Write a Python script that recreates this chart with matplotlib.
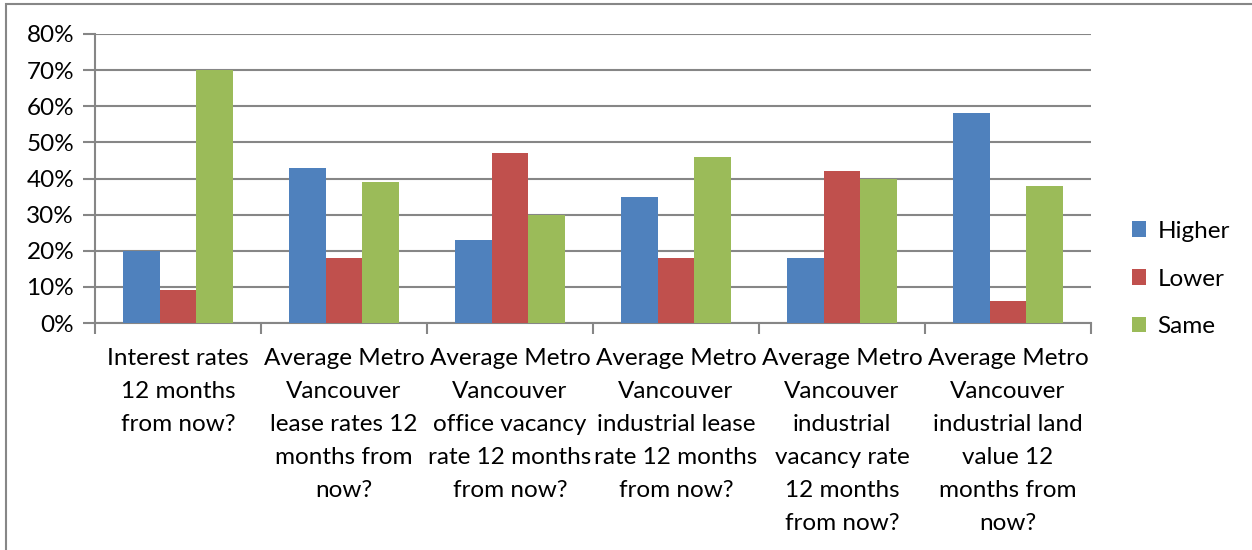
import numpy as np
import matplotlib
matplotlib.use("Agg")
import matplotlib.pyplot as plt
from matplotlib.patches import Rectangle
from matplotlib.ticker import FuncFormatter

plt.rcParams['font.family'] = ['Lato', 'DejaVu Sans']

categories = [
    "Interest rates\n12 months\nfrom now?",
    "Average Metro\nVancouver\nlease rates 12\nmonths from\nnow?",
    "Average Metro\nVancouver\noffice vacancy\nrate 12 months\nfrom now?",
    "Average Metro\nVancouver\nindustrial lease\nrate 12 months\nfrom now?",
    "Average Metro\nVancouver\nindustrial\nvacancy rate\n12 months\nfrom now?",
    "Average Metro\nVancouver\nindustrial land\nvalue 12\nmonths from\nnow?",
]
higher = [20, 43, 23, 35, 18, 58]
lower = [9, 18, 47, 18, 42, 6]
same = [70, 39, 30, 46, 40, 38]

series = [("Higher", higher, "#4F81BD"),
          ("Lower", lower, "#C0504D"),
          ("Same", same, "#9BBB59")]

W, H = 1252, 550
fs = 17.5
fig = plt.figure(figsize=(W / 100, H / 100), dpi=100)
ax = fig.add_axes([95 / W, 1 - 323 / H, (1091 - 95) / W, (323 - 34) / H])

# outer chart border (only top/left visible in the crop)
fig.patches.append(Rectangle((6 / W, -0.1), 1.2, 1 - 4 / H + 0.1, transform=fig.transFigure,
                             fill=False, edgecolor="#878787", linewidth=1.5))

x = np.arange(len(categories))
bw = 1 / 4.5
for i, (name, vals, col) in enumerate(series):
    ax.bar(x + (i - 1) * bw, vals, width=bw, color=col, label=name, zorder=3)

ax.set_xlim(-0.5, len(categories) - 0.5)
ax.set_ylim(0, 80)
ax.set_yticks(np.arange(0, 81, 10))
ax.yaxis.set_major_formatter(FuncFormatter(lambda v, p: f"{int(v)}%"))
ax.grid(axis="y", color="#868686", linewidth=1.5, zorder=0)

ax.set_xticks(np.arange(-0.5, len(categories), 1.0))
ax.set_xticklabels([])
ax.set_xticks(x, minor=True)
ax.set_xticklabels(categories, minor=True, fontsize=fs, linespacing=1.7)
ax.tick_params(axis="x", which="minor", length=0, pad=18)
ax.tick_params(axis="x", which="major", length=8, width=1.5, color="#868686")
ax.tick_params(axis="y", length=9, width=1.5, color="#868686", labelsize=fs, pad=6)

for s in ["top", "right"]:
    ax.spines[s].set_visible(False)
for s in ["left", "bottom"]:
    ax.spines[s].set_color("#868686")
    ax.spines[s].set_linewidth(1.5)

fig.legend(loc="center left", bbox_to_anchor=(1110 / W, 1 - 279 / H), frameon=False,
           fontsize=fs, handlelength=0.6, handleheight=0.6, labelspacing=1.1, handletextpad=0.45)

fig.savefig("out.png", dpi=100)
